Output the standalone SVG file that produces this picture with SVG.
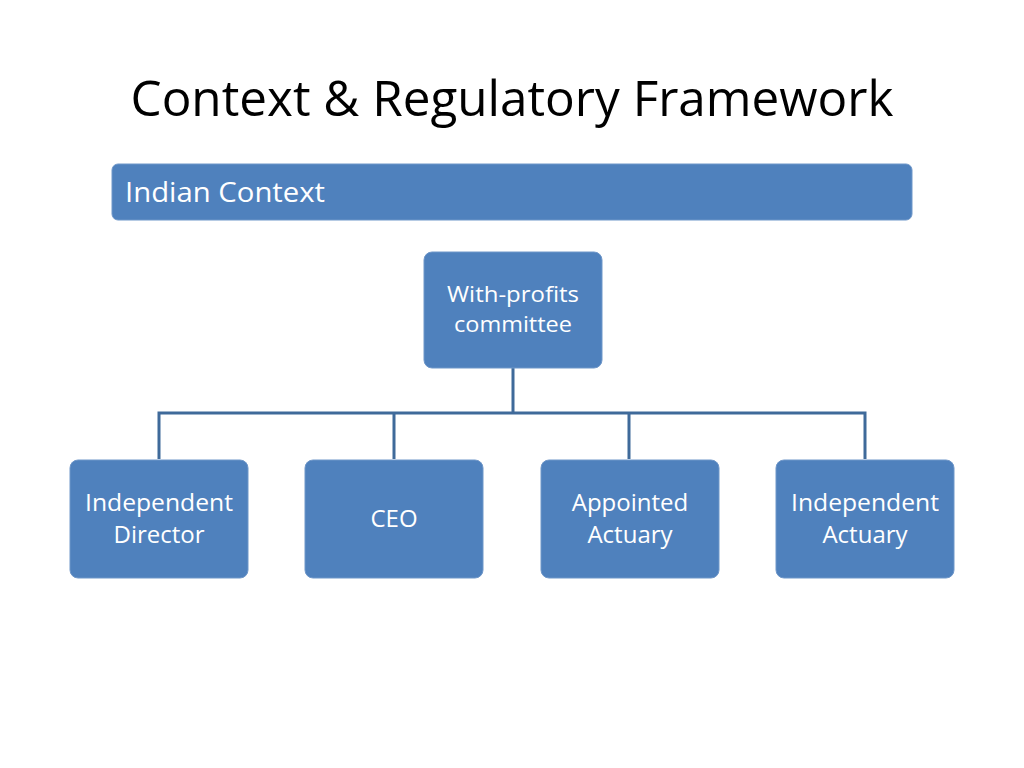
<svg xmlns="http://www.w3.org/2000/svg" width="1024" height="768" viewBox="0 0 1024 768">
<style>
.box{fill:#4F81BD;stroke:#6F97C9;stroke-width:1}
.t{font-family:"Open Sans","Liberation Sans",sans-serif;fill:#fff;text-anchor:middle}
.c{fill:none;stroke:#3F6A9A;stroke-width:3}
</style>
<rect width="1024" height="768" fill="#fff"/>
<text x="512" y="116" font-family="'Open Sans','Liberation Sans',sans-serif" font-size="50" text-anchor="middle" fill="#000" textLength="763" lengthAdjust="spacingAndGlyphs">Context &amp; Regulatory Framework</text>
<g id="indian-context">
<rect class="box" x="112" y="164" width="800" height="56" rx="6"/>
<text x="125" y="202" font-family="'Open Sans','Liberation Sans',sans-serif" font-size="28" fill="#fff" textLength="200" lengthAdjust="spacingAndGlyphs">Indian Context</text>
</g>
<g id="connectors">
<path class="c" d="M513 368V413M159 459V413H865V459M394 413V459M629 413V459"/>
</g>
<g id="with-profits">
<rect class="box" x="424" y="252" width="178" height="116" rx="8"/>
<text class="t" x="513" y="302" font-size="22" textLength="132" lengthAdjust="spacingAndGlyphs">With-profits</text>
<text class="t" x="513" y="332" font-size="22" textLength="118" lengthAdjust="spacingAndGlyphs">committee</text>
</g>
<g id="independent-director">
<rect class="box" x="70" y="460" width="178" height="118" rx="8"/>
<text class="t" x="159" y="511" font-size="24" textLength="148" lengthAdjust="spacingAndGlyphs">Independent</text>
<text class="t" x="159" y="543" font-size="24">Director</text>
</g>
<g id="ceo">
<rect class="box" x="305" y="460" width="178" height="118" rx="8"/>
<text class="t" x="394" y="527" font-size="24">CEO</text>
</g>
<g id="appointed-actuary">
<rect class="box" x="541" y="460" width="178" height="118" rx="8"/>
<text class="t" x="630" y="511" font-size="24">Appointed</text>
<text class="t" x="630" y="543" font-size="24">Actuary</text>
</g>
<g id="independent-actuary">
<rect class="box" x="776" y="460" width="178" height="118" rx="8"/>
<text class="t" x="865" y="511" font-size="24" textLength="148" lengthAdjust="spacingAndGlyphs">Independent</text>
<text class="t" x="865" y="543" font-size="24">Actuary</text>
</g>
</svg>
